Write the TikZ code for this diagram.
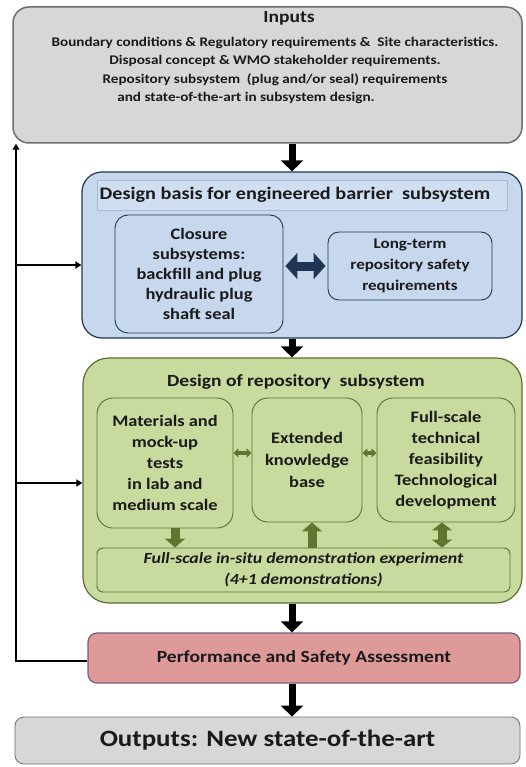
\documentclass[tikz,border=0pt]{standalone}
\usepackage{fontspec}
\setmainfont{Carlito}[FakeStretch=1.15]
\usetikzlibrary{arrows.meta,calc}
\definecolor{grayfill}{HTML}{D7D7D7}
\definecolor{grayline}{HTML}{6F6F6F}
\definecolor{bluefill}{HTML}{C6D7EE}
\definecolor{blueline}{HTML}{1F3553}
\definecolor{bluestrip}{HTML}{D0DEF1}
\definecolor{bluestripline}{HTML}{A9B9CF}
\definecolor{greenfill}{HTML}{C9DA9E}
\definecolor{greenline}{HTML}{5C7031}
\definecolor{greenarrow}{HTML}{5F7530}
\definecolor{pinkfill}{HTML}{DE9A99}
\definecolor{pinkline}{HTML}{7D5C7E}
\definecolor{textcol}{HTML}{1A1A1A}
\tikzset{
  box/.style={draw, line width=1.2pt, align=center, inner sep=0pt, text=textcol, font=\bfseries},
  bigarrow/.style={line width=7pt, -{Triangle[width=22pt,length=11pt]}},
  thinarrow/.style={line width=1.8pt, -{Triangle[width=7pt,length=6pt]}},
  greenvarrow/.style={draw=greenarrow, line width=9pt, -{Triangle[width=20pt,length=9pt]}},
  greendarrow/.style={draw=greenarrow, line width=9pt, {Triangle[width=20pt,length=8pt]}-{Triangle[width=20pt,length=8pt]}},
  greenharrow/.style={draw=greenarrow, line width=3.5pt, {Triangle[width=9pt,length=5pt]}-{Triangle[width=9pt,length=5pt]}},
}
\begin{document}
\begin{tikzpicture}[x=1pt,y=-1pt]
\useasboundingbox (0,0) rectangle (525,767);
% boxes
\node[box, draw=grayline, line width=1.5pt, fill=grayfill, rounded corners=16pt, minimum width=509pt, minimum height=136pt] (inputs) at (267.5,75) {};
\node[text=textcol, font=\bfseries\fontsize{17}{18}\selectfont] (inputsT) at (289,18) {Inputs};
\node[text=textcol, font=\bfseries\fontsize{13.2}{18.4}\selectfont, align=center] (inputsB) at (275,70.5) {Boundary conditions \& Regulatory requirements \& ~Site characteristics.\\
Disposal concept \& WMO stakeholder requirements.\\
Repository subsystem ~(plug and/or seal) requirements\\
\hspace*{-58pt}and state-of-the-art in subsystem design.};

\node[box, draw=blueline, fill=bluefill, rounded corners=20pt, minimum width=440pt, minimum height=166pt] (blue) at (302,255) {};
\node[box, draw=bluestripline, line width=0.6pt, fill=bluestrip, minimum width=410pt, minimum height=30pt] (bluestripbox) at (302,195) {};
\node[text=textcol, font=\bfseries\fontsize{17.6}{18}\selectfont] (bluetitle) at (295,195) {Design basis for engineered barrier ~subsystem};
\node[box, draw=blueline, line width=0.9pt, fill=bluefill, rounded corners=13pt, minimum width=168pt, minimum height=118pt, font=\bfseries\fontsize{16}{20}\selectfont] (closure) at (199,274) {Closure\\subsystems:\\backfill and plug\\hydraulic plug\\shaft seal};
\node[box, draw=blueline, line width=0.9pt, fill=bluefill, rounded corners=11pt, minimum width=164pt, minimum height=68pt, font=\bfseries\fontsize{14.8}{21}\selectfont] (longterm) at (410,266) {Long-term\\repository safety\\requirements};

\node[box, draw=greenline, fill=greenfill, rounded corners=26pt, minimum width=439pt, minimum height=245pt] (green) at (302.5,480.5) {};
\node[text=textcol, font=\bfseries\fontsize{17}{18}\selectfont] (greentitle) at (296,382) {Design of repository ~subsystem};
\node[box, draw=greenline, line width=0.9pt, fill=greenfill, rounded corners=16pt, minimum width=136pt, minimum height=130pt, font=\bfseries\fontsize{16}{21}\selectfont] (mat) at (165,463) {Materials and\\mock-up\\tests\\in lab and\\medium scale};
\node[box, draw=greenline, line width=0.9pt, fill=greenfill, rounded corners=16pt, minimum width=110pt, minimum height=124pt, font=\bfseries\fontsize{16}{22}\selectfont] (ext) at (307,460) {Extended\\knowledge\\base};
\node[box, draw=greenline, line width=0.9pt, fill=greenfill, rounded corners=16pt, minimum width=138pt, minimum height=124pt, font=\bfseries\fontsize{16}{21}\selectfont] (full) at (446,460) {Full-scale\\technical\\feasibility\\Technological\\development};
\node[box, draw=greenline, line width=0.9pt, fill=greenfill, rounded corners=6pt, minimum width=413pt, minimum height=44pt, font=\bfseries\itshape\fontsize{15.5}{21}\selectfont] (demo) at (303.5,570) {Full-scale in-situ demonstration experiment\\(4+1 demonstrations)};

\node[box, draw=pinkline, fill=pinkfill, rounded corners=9pt, minimum width=432pt, minimum height=50pt, font=\bfseries\fontsize{17}{18}\selectfont] (perf) at (304,658) {Performance and Safety Assessment};
\node[box, draw=grayline, line width=0.8pt, fill=grayfill, rounded corners=9pt, minimum width=505pt, minimum height=47pt, font=\bfseries\fontsize{23.4}{24}\selectfont] (outputs) at (267.5,740.5) {Outputs: New state-of-the-art};

% main arrows
\coordinate (ax) at (292,0);
\draw[bigarrow] (inputs.south -| ax) -- (blue.north -| ax);
\draw[bigarrow] (blue.south -| ax) -- (green.north -| ax);
\draw[bigarrow] (green.south -| ax) -- (perf.north -| ax);
\draw[bigarrow] (perf.south -| ax) -- (outputs.north -| ax);

% feedback loop
\coordinate (lx) at (16,0);
\coordinate (pw) at ([yshift=-3pt]perf.west);
\coordinate (fb) at (pw -| lx);
\draw[line width=1.8pt] (pw) -- (fb);
\draw[thinarrow] ([yshift=-0.9pt]fb) -- (inputs.south -| lx);
\draw[thinarrow] (lx |- 0,265) -- (blue.west |- 0,265);
\draw[thinarrow] (lx |- 0,483) -- (green.west |- 0,483);

% blue double arrow
\draw[draw=blueline, line width=9pt, {Triangle[width=26pt,length=12pt]}-{Triangle[width=26pt,length=12pt]}] ([xshift=2pt]closure.east |- longterm.west) -- ([xshift=-2pt]longterm.west);

% green arrows
\draw[greenharrow] (mat.east |- 0,453) -- (ext.west |- 0,453);
\draw[greenharrow] (ext.east |- 0,453) -- (full.west |- 0,453);
\draw[greenvarrow] (mat.south -| 175,0) -- (demo.north -| 175,0);
\draw[greenvarrow] (demo.north -| 312,0) -- (ext.south -| 312,0);
\draw[greendarrow] (full.south -| 442,0) -- (demo.north -| 442,0);
\end{tikzpicture}
\end{document}
